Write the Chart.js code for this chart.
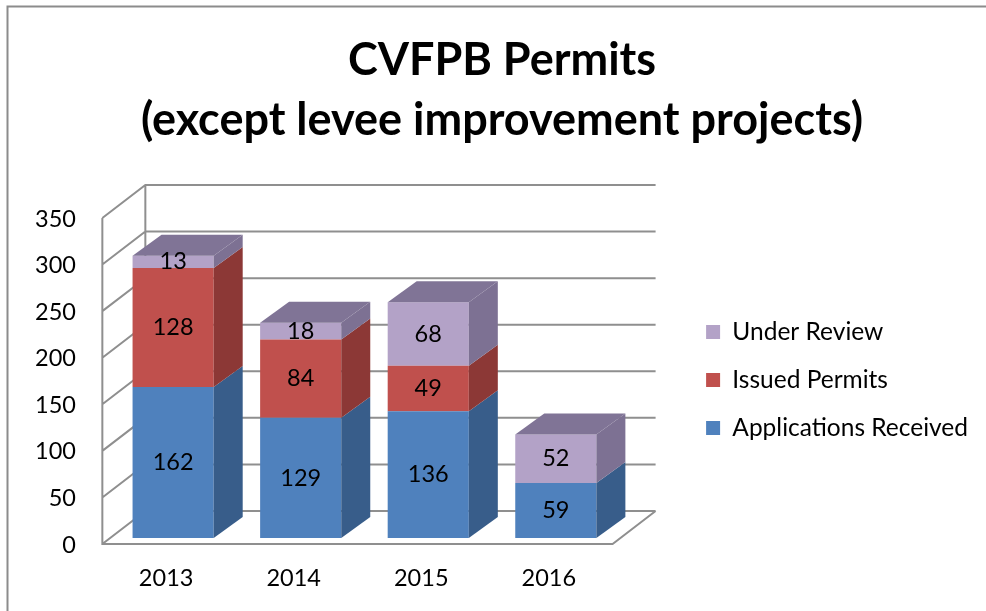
<!DOCTYPE html>
<html>
<head>
<meta charset="utf-8">
<script src="https://cdn.jsdelivr.net/npm/chart.js@4/dist/chart.umd.min.js"></script>
<style>
  html, body { margin: 0; padding: 0; background: #fff; }
  #wrap { width: 986px; height: 611px; }
</style>
</head>
<body>
<div id="wrap"><canvas id="myChart"></canvas></div>
<script>
const years = ['2013', '2014', '2015', '2016'];
const applicationsReceived = [162, 129, 136, 59];
const issuedPermits = [128, 84, 49, 0];
const underReview = [13, 18, 68, 52];
const yTicks = [0, 50, 100, 150, 200, 250, 300, 350];

const FONT = 'Lato';
const FSIZE = 23.5;
const LEG_SIZE = 24.5;
const GRID = '#8f8f8f';

function poly(ctx, pts) {
  ctx.beginPath();
  ctx.moveTo(pts[0][0], pts[0][1]);
  for (let k = 1; k < pts.length; k++) ctx.lineTo(pts[k][0], pts[k][1]);
  ctx.closePath();
  ctx.fill();
}

// fake 3d: walls behind, then side/top faces + value labels on top of the bars
const box3d = {
  id: 'box3d',
  beforeDraw(chart) {
    const ctx = chart.ctx;
    ctx.save();
    ctx.strokeStyle = '#8c8c8c';
    ctx.lineWidth = 2;
    ctx.beginPath();
    ctx.moveTo(7.5, chart.height);
    ctx.lineTo(7.5, 6.5);
    ctx.lineTo(chart.width, 6.5);
    ctx.stroke();
    ctx.restore();
  },
  beforeDatasetsDraw(chart) {
    const {ctx, chartArea: a, scales: {y}} = chart;
    const fx = a.left - 7, fy = 6;
    const bx = a.left + 36, by = -27;
    const rx = a.right + 36;
    const top = y.getPixelForValue(yTicks[yTicks.length - 1]);
    const zero = y.getPixelForValue(0);
    ctx.save();
    ctx.strokeStyle = GRID;
    ctx.lineWidth = 2;
    ctx.beginPath();
    yTicks.forEach(v => {
      const py = y.getPixelForValue(v);
      ctx.moveTo(fx, py + fy);
      ctx.lineTo(bx, py + by);
      ctx.lineTo(rx, py + by);
    });
    ctx.moveTo(fx, top + fy);
    ctx.lineTo(fx, zero + fy);
    ctx.lineTo(a.right - 7, zero + fy);
    ctx.lineTo(rx, zero + by);
    ctx.moveTo(bx, top + by);
    ctx.lineTo(bx, zero + by);
    ctx.stroke();
    ctx.restore();
  },
  afterDatasetsDraw(chart) {
    const ctx = chart.ctx;
    const dx = 29, dy = -21;
    const sets = chart.data.datasets;
    ctx.save();
    sets.forEach((ds, i) => {
      const meta = chart.getDatasetMeta(i);
      meta.data.forEach((bar, j) => {
        if (!ds.data[j]) return;
        const {x, y, base, width} = bar.getProps(['x', 'y', 'base', 'width'], true);
        const l = x - width / 2, r = x + width / 2;
        ctx.fillStyle = ds.sideColor;
        poly(ctx, [[r, y], [r + dx, y + dy], [r + dx, base + dy], [r, base]]);
        const isTop = sets.slice(i + 1).every(d => !d.data[j]);
        if (isTop) {
          ctx.fillStyle = ds.topColor;
          poly(ctx, [[l, y], [l + dx, y + dy], [r + dx, y + dy], [r, y]]);
        }
        ctx.fillStyle = '#000';
        ctx.font = FSIZE + 'px ' + FONT;
        ctx.textAlign = 'center';
        ctx.textBaseline = 'middle';
        ctx.fillText(ds.data[j], x, (y + base) / 2);
      });
    });
    ctx.restore();
  }
};

const data = {
  labels: years,
  datasets: [
    { label: 'Applications Received', data: applicationsReceived,
      backgroundColor: '#4f81bd', sideColor: '#385d8a', topColor: '#3f6797' },
    { label: 'Issued Permits', data: issuedPermits,
      backgroundColor: '#c0504d', sideColor: '#8c3836', topColor: '#9a3d3a' },
    { label: 'Under Review', data: underReview,
      backgroundColor: '#b3a2c7', sideColor: '#7d7193', topColor: '#807496' }
  ]
};

const config = {
  type: 'bar',
  data,
  options: {
    responsive: true,
    maintainAspectRatio: false,
    animation: false,
    barPercentage: 0.636,
    categoryPercentage: 1,
    layout: { padding: { left: 26, right: 8, top: 0, bottom: 19.5 } },
    plugins: {
      tooltip: { enabled: false },
      title: {
        display: true,
        text: ['CVFPB Permits', '(except levee improvement projects)'],
        color: '#000',
        font: { family: FONT, size: 45, weight: 'bold', lineHeight: 60 / 45 },
        padding: { top: 30, bottom: 62 }
      },
      legend: {
        position: 'right',
        fullSize: false,
        reverse: true,
        maxWidth: 400,
        // empty title only nudges the centred items down a little
        title: { display: true, text: '', font: { size: 10, lineHeight: 1 }, padding: 0 },
        labels: {
          color: '#000',
          boxWidth: 14,
          boxHeight: 14,
          padding: 48 - LEG_SIZE,
          font: { family: FONT, size: LEG_SIZE }
        }
      }
    },
    scales: {
      x: {
        stacked: true,
        afterFit: s => { s.height = 53.5; },
        grid: { display: false, drawTicks: false },
        border: { display: false },
        ticks: { color: '#000', maxRotation: 0, labelOffset: -7, padding: 26, font: { family: FONT, size: FSIZE } }
      },
      y: {
        stacked: true,
        min: 0,
        max: 350,
        afterBuildTicks: s => { s.ticks = yTicks.map(v => ({ value: v })); },
        afterFit: s => { s.width = 83.35; },
        grid: { display: false, drawTicks: false },
        border: { display: false },
        ticks: { color: '#000', labelOffset: 7, padding: 33.35, font: { family: FONT, size: FSIZE } }
      },
      // empty axis, only keeps room for the 3d depth between plot and legend
      depth: {
        type: 'linear',
        position: 'right',
        afterFit: s => { s.width = 63; },
        grid: { display: false, drawTicks: false },
        border: { display: false },
        ticks: { display: false }
      }
    }
  },
  plugins: [box3d]
};

const myChart = new Chart(document.getElementById('myChart'), config);
</script>
</body>
</html>
